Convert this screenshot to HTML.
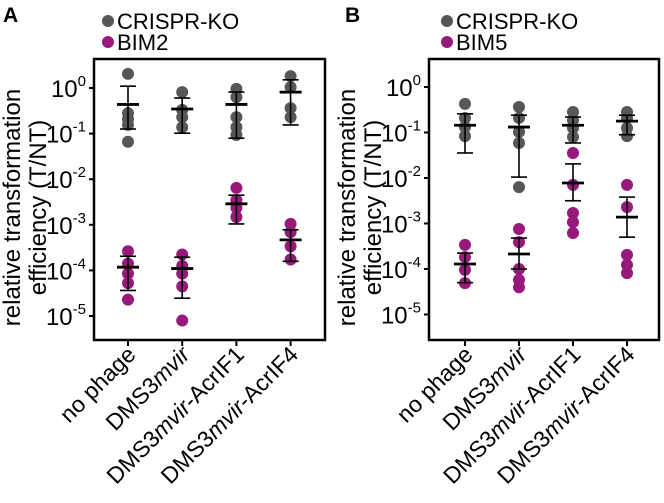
<!DOCTYPE html>
<html><head><meta charset="utf-8">
<style>
html,body{margin:0;padding:0;background:#fff;}
svg{display:block;font-family:"Liberation Sans",sans-serif;}
</style></head>
<body>
<svg id="fig" width="664" height="503" viewBox="0 0 664 503"></svg>
<script>
const categories = ["no phage","DMS3mvir","DMS3mvir-AcrIF1","DMS3mvir-AcrIF4"];
const yTickExps = [0,-1,-2,-3,-4,-5];
// log10 values, panel A
const aKoPoints = [[0.31,-0.55,-0.68,-0.81,-1.18],[-0.09,-0.48,-0.64,-0.86],[-0.02,-0.2,-0.64,-0.86,-1.03],[0.26,0.02,-0.44,-0.64]];
const aKoMean = [-0.36,-0.46,-0.36,-0.09];
const aKoHi = [0.04,-0.22,-0.09,0.18];
const aKoLo = [-0.9,-0.99,-1.1,-0.81];
const aBimPoints = [[-3.58,-3.85,-4.07,-4.28,-4.64],[-3.65,-3.9,-4.07,-4.35,-5.1],[-2.19,-2.46,-2.63,-2.83],[-2.98,-3.16,-3.47,-3.76]];
const aBimMean = [-3.93,-3.96,-2.54,-3.33];
const aBimHi = [-3.69,-3.71,-2.35,-3.11];
const aBimLo = [-4.44,-4.61,-2.98,-3.8];
// panel B
const bKoPoints = [[-0.37,-0.68,-0.88,-1.08],[-0.44,-0.68,-0.99,-1.23,-2.2],[-0.55,-0.73,-0.9,-1.1],[-0.55,-0.68,-0.9,-1.08]];
const bKoMean = [-0.84,-0.88,-0.84,-0.75];
const bKoHi = [-0.59,-0.62,-0.66,-0.62];
const bKoLo = [-1.45,-1.98,-1.23,-1.05];
const bBimPoints = [[-3.47,-3.74,-4.02,-4.31],[-3.12,-3.41,-4.0,-4.24,-4.4],[-1.45,-2.15,-2.77,-2.97,-3.21],[-2.15,-2.64,-3.69,-3.91,-4.09]];
const bBimMean = [-3.89,-3.67,-2.11,-2.86];
const bBimHi = [-3.65,-3.32,-1.69,-2.42];
const bBimLo = [-4.3,-4.0,-2.5,-3.3];

const NS="http://www.w3.org/2000/svg";
const svg=document.getElementById('fig');
function mk(tag,attrs,parent){const e=document.createElementNS(NS,tag);for(const k in attrs)e.setAttribute(k,attrs[k]);(parent||svg).appendChild(e);return e;}
const GRAY="#575757", PURPLE="#97197c";

function panel(cfg){
  const g=mk('g',{});
  
  
  const y=v=>cfg.y0-v*cfg.step;
  const x=i=>cfg.x0+i*cfg.dx;
  const L=mk('text',{x:cfg.lx,y:22,'font-size':21,'font-weight':'bold'},g);L.textContent=cfg.letter;
  
  
  [[GRAY,'CRISPR-KO',21],[PURPLE,cfg.bim,42]].forEach(([c,t,yy])=>{
    const lg=mk('g',{},g);
    
    
    mk('circle',{cx:cfg.legX,cy:yy,r:6,fill:c},lg);
    const tx=mk('text',{x:cfg.legX+9,y:yy+8,'font-size':22},lg);tx.textContent=t;
  });
  const yt=mk('text',{transform:`translate(${cfg.left-61},${(cfg.top+cfg.bottom)/2+8}) rotate(-90)`,'text-anchor':'middle','font-size':24},g);
  
  
  const t1=mk('tspan',{x:0,dy:-13},yt);t1.textContent='relative transformation';
  const t2=mk('tspan',{x:0,dy:26},yt);t2.textContent='efficiency (T/NT)';
  yTickExps.forEach(e=>{
    const yy=y(e);
    mk('line',{x1:cfg.left-5,x2:cfg.left,y1:yy,y2:yy,stroke:'#000','stroke-width':2},g);
    const tl=mk('text',{x:cfg.left-8,y:yy+9,'text-anchor':'end','font-size':24},g);
    
    
    const a=mk('tspan',{},tl);a.textContent='10';
    const b=mk('tspan',{dy:-11,'font-size':15},tl);b.textContent=String(e===0?'0':e);
  });
  const series=[[cfg.koP,cfg.koM,cfg.koH,cfg.koL,GRAY,'ko'],[cfg.bP,cfg.bM,cfg.bH,cfg.bL,PURPLE,'bim']];
  series.forEach(([P,M,H,Lo,c,nm])=>{
    P.forEach((arr,i)=>arr.forEach(v=>{
      const p=mk('circle',{cx:x(i),cy:y(v),r:6,fill:c},g);
      
      
    }));
  });
  series.forEach(([P,M,H,Lo,c,nm])=>{
    M.forEach((m,i)=>{
      const eb=mk('g',{stroke:'#000'},g);
      
      
      const xi=x(i);
      mk('line',{x1:xi,x2:xi,y1:y(H[i]),y2:y(Lo[i]),'stroke-width':1.6},eb);
      mk('line',{x1:xi-8,x2:xi+8,y1:y(H[i]),y2:y(H[i]),'stroke-width':1.6},eb);
      mk('line',{x1:xi-8,x2:xi+8,y1:y(Lo[i]),y2:y(Lo[i]),'stroke-width':1.6},eb);
      mk('line',{x1:xi-11,x2:xi+11,y1:y(m),y2:y(m),'stroke-width':2.8},eb);
    });
  });
  const box=mk('rect',{x:cfg.left,y:cfg.top,width:cfg.right-cfg.left,height:cfg.bottom-cfg.top,fill:'none',stroke:'#000','stroke-width':2.5},g);
  
  
  categories.forEach((c,i)=>{
    const xi=x(i);
    mk('line',{x1:xi,x2:xi,y1:cfg.bottom,y2:cfg.bottom+6,stroke:'#000','stroke-width':2},g);
    const t=mk('text',{transform:`translate(${xi+9},${cfg.bottom+16}) rotate(-45)`,'text-anchor':'end','font-size':23},g);
    
    
    const m=c.match(/^DMS3mvir(.*)$/);
    if(m){
      const a=mk('tspan',{},t);a.textContent='DMS3';
      const b=mk('tspan',{'font-style':'italic'},t);b.textContent='mvir';
      if(m[1]){const d=mk('tspan',{},t);d.textContent=m[1];}
    } else t.textContent=c;
  });
}
panel({letter:'A',lx:3,bim:'BIM2',legX:108,left:94,right:325,top:59,bottom:340,y0:88,step:45.6,x0:128,dx:54.2,
  koP:aKoPoints,koM:aKoMean,koH:aKoHi,koL:aKoLo,bP:aBimPoints,bM:aBimMean,bH:aBimHi,bL:aBimLo});
panel({letter:'B',lx:345,bim:'BIM5',legX:447,left:429,right:659,top:59,bottom:340,y0:87,step:45.5,x0:465,dx:54,
  koP:bKoPoints,koM:bKoMean,koH:bKoHi,koL:bKoLo,bP:bBimPoints,bM:bBimMean,bH:bBimHi,bL:bBimLo});
</script>
</body></html>
